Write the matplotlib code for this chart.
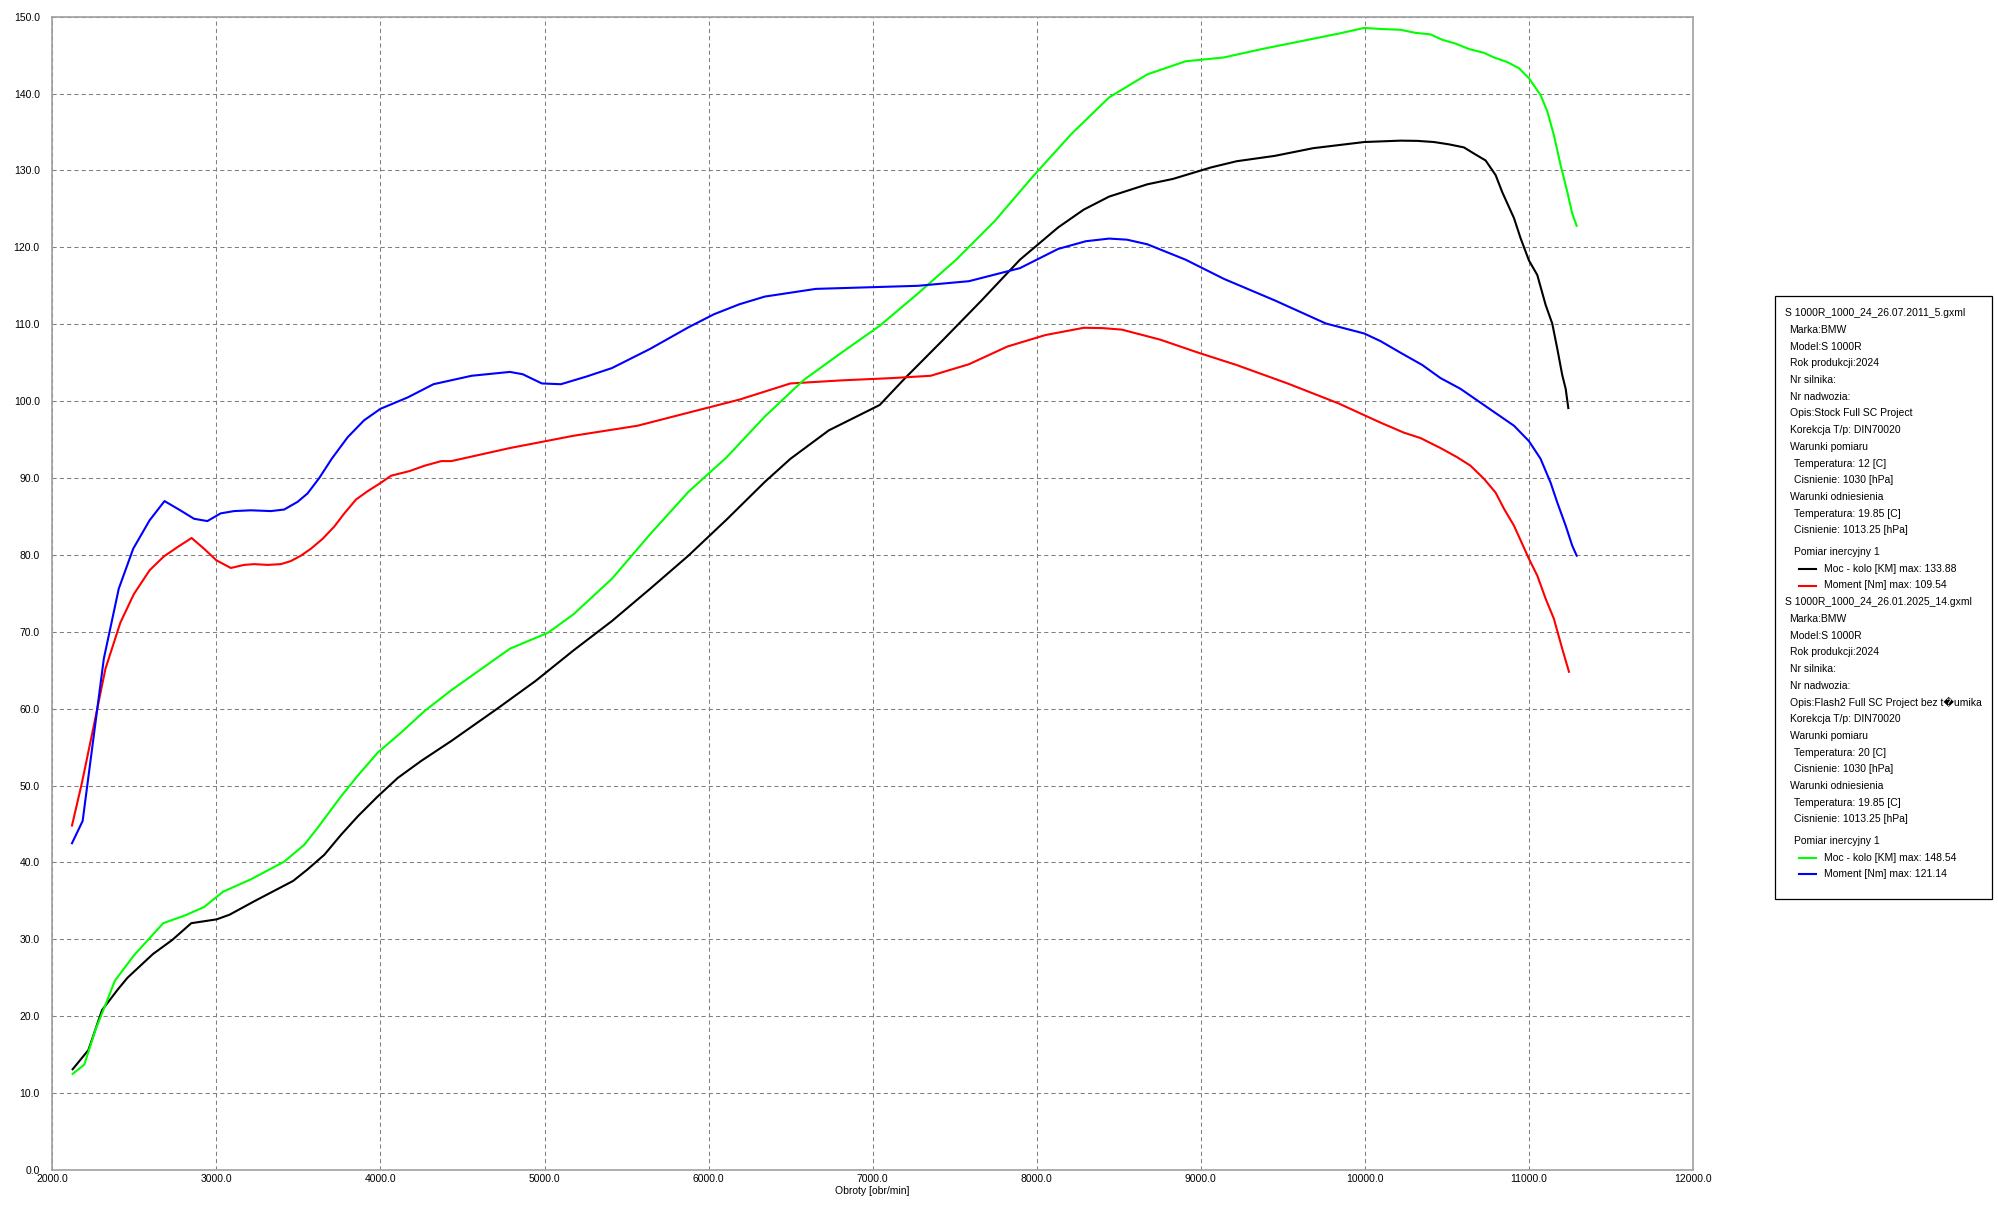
import matplotlib
matplotlib.use('Agg')
from matplotlib import pyplot as plt
from matplotlib.lines import Line2D
from matplotlib.patches import Rectangle
from matplotlib.ticker import FormatStrFormatter

plt.rcParams['font.family'] = ['Liberation Sans', 'DejaVu Sans']
plt.rcParams['font.size'] = 7.5

# pomiar 1 (stock) - moc [KM]
rpm_moc_1 = [2124, 2220, 2303, 2400, 2458, 2614, 2730, 2847, 3002, 3080, 3235, 3468, 3556, 3658, 3760,
             3862, 3984, 4106, 4248, 4432, 4712, 4945, 5178, 5411, 5644, 5877, 6110, 6343, 6499, 6733,
             7043, 7198, 7431, 7664, 7898, 8131, 8286, 8441, 8674, 8830, 9063, 9218, 9451, 9685, 9996,
             10217, 10319, 10421, 10512, 10604, 10665, 10736, 10797, 10837, 10909, 10949, 11000, 11051,
             11102, 11142, 11173, 11203, 11224, 11240]
moc_1 = [13.1, 15.6, 20.8, 23.5, 25.0, 28.1, 29.9, 32.1, 32.6, 33.2, 35.0, 37.6, 39.1, 41.0, 43.6,
         46.0, 48.6, 51.0, 53.2, 55.8, 60.0, 63.6, 67.6, 71.4, 75.6, 79.9, 84.6, 89.5, 92.5, 96.2,
         99.5, 103.0, 108.0, 113.1, 118.4, 122.6, 124.9, 126.6, 128.2, 128.9, 130.4, 131.2, 131.9, 132.9, 133.7,
         133.88, 133.85, 133.7, 133.4, 133.0, 132.2, 131.3, 129.4, 127.2, 123.8, 121.2, 118.3, 116.4,
         112.5, 110.1, 106.8, 103.4, 101.6, 99.1]

# pomiar 1 (stock) - moment [Nm]
rpm_mom_1 = [2120, 2181, 2253, 2324, 2415, 2497, 2593, 2680, 2762, 2849, 2925, 3000, 3088, 3169, 3230,
             3312, 3393, 3454, 3515, 3576, 3648, 3719, 3780, 3851, 3923, 4004, 4065, 4177, 4269, 4371,
             4432, 4789, 5178, 5567, 5877, 6188, 6499, 6810, 7121, 7354, 7587, 7821, 8054, 8287, 8400,
             8519, 8752, 8985, 9218, 9529, 9840, 10096, 10238, 10339, 10461, 10563, 10644, 10726, 10797,
             10848, 10909, 11000, 11051, 11102, 11152, 11203, 11244]
mom_1 = [44.8, 50.4, 57.8, 65.2, 71.2, 74.9, 78.0, 79.8, 81.0, 82.2, 80.8, 79.3, 78.3, 78.7, 78.8,
         78.7, 78.8, 79.2, 79.9, 80.8, 82.1, 83.7, 85.4, 87.2, 88.3, 89.4, 90.3, 90.9, 91.6, 92.2,
         92.2, 93.9, 95.5, 96.8, 98.5, 100.2, 102.3, 102.7, 103.0, 103.3, 104.8, 107.1, 108.6, 109.54, 109.5,
         109.3, 108.0, 106.3, 104.7, 102.3, 99.7, 97.2, 95.9, 95.2, 93.9, 92.7, 91.6, 89.9, 88.1,
         86.0, 83.8, 79.5, 77.3, 74.3, 71.7, 67.8, 64.8]

# pomiar 2 (flash) - moc [KM]
rpm_moc_2 = [2124, 2195, 2264, 2330, 2381, 2497, 2676, 2808, 2925, 3041, 3210, 3413, 3536, 3617, 3760,
             3862, 3984, 4126, 4269, 4432, 4789, 5023, 5178, 5411, 5644, 5877, 6110, 6343, 6577, 6810,
             7043, 7276, 7509, 7743, 7976, 8209, 8441, 8674, 8907, 9141, 9374, 9607, 9840, 9996, 10100,
             10217, 10309, 10400, 10472, 10553, 10634, 10726, 10787, 10868, 10939, 11000, 11071, 11112,
             11152, 11193, 11234, 11264, 11291]
moc_2 = [12.5, 13.7, 18.3, 21.8, 24.6, 27.9, 32.1, 33.1, 34.2, 36.2, 37.8, 40.1, 42.3, 44.5, 48.6,
         51.3, 54.3, 56.9, 59.7, 62.4, 67.8, 69.9, 72.3, 76.9, 82.7, 88.2, 92.7, 98.0, 102.7, 106.3,
         109.8, 114.0, 118.4, 123.4, 129.2, 134.7, 139.5, 142.5, 144.2, 144.7, 145.8, 146.8, 147.8, 148.54, 148.4,
         148.3, 147.9, 147.7, 147.0, 146.5, 145.8, 145.3, 144.7, 144.1, 143.3, 142.0, 139.8, 137.7,
         134.6, 130.7, 127.2, 124.4, 122.8]

# pomiar 2 (flash) - moment [Nm]
rpm_mom_2 = [2120, 2185, 2314, 2405, 2493, 2593, 2684, 2772, 2864, 2945, 3026, 3108, 3210, 3332, 3413,
             3495, 3556, 3627, 3703, 3800, 3900, 4000, 4168, 4323, 4556, 4789, 4867, 4984, 5100, 5256,
             5411, 5644, 5877, 6033, 6188, 6343, 6654, 6965, 7276, 7587, 7898, 8131, 8300, 8441, 8550,
             8674, 8907, 9141, 9451, 9762, 9996, 10096, 10217, 10350, 10461, 10583, 10705, 10807, 10909,
             11000, 11071, 11132, 11173, 11224, 11264, 11291]
mom_2 = [42.5, 45.4, 66.5, 75.6, 80.8, 84.5, 87.0, 85.9, 84.7, 84.4, 85.4, 85.7, 85.8, 85.7, 85.9,
         86.9, 88.0, 90.0, 92.5, 95.3, 97.5, 99.0, 100.5, 102.2, 103.3, 103.8, 103.5, 102.3, 102.2, 103.2,
         104.3, 106.8, 109.6, 111.3, 112.6, 113.6, 114.6, 114.8, 115.0, 115.6, 117.3, 119.8, 120.8, 121.14, 121.0,
         120.4, 118.4, 115.9, 113.1, 110.1, 108.8, 107.8, 106.3, 104.7, 103.0, 101.6, 99.8, 98.3, 96.8,
         94.8, 92.5, 89.4, 86.8, 83.8, 81.2, 79.9]

x_ticks = [2000, 3000, 4000, 5000, 6000, 7000, 8000, 9000, 10000, 11000, 12000]
y_ticks = [0, 10, 20, 30, 40, 50, 60, 70, 80, 90, 100, 110, 120, 130, 140, 150]

legend_1 = ['S 1000R_1000_24_26.07.2011_5.gxml', ' Marka:BMW', ' Model:S 1000R', ' Rok produkcji:2024',
            ' Nr silnika:', ' Nr nadwozia:', ' Opis:Stock Full SC Project', ' Korekcja T/p: DIN70020',
            ' Warunki pomiaru', '  Temperatura: 12 [C]', '  Cisnienie: 1030 [hPa]', ' Warunki odniesienia',
            '  Temperatura: 19.85 [C]', '  Cisnienie: 1013.25 [hPa]']
legend_2 = ['S 1000R_1000_24_26.01.2025_14.gxml', ' Marka:BMW', ' Model:S 1000R', ' Rok produkcji:2024',
            ' Nr silnika:', ' Nr nadwozia:', ' Opis:Flash2 Full SC Project bez t\ufffdumika',
            ' Korekcja T/p: DIN70020', ' Warunki pomiaru', '  Temperatura: 20 [C]', '  Cisnienie: 1030 [hPa]',
            ' Warunki odniesienia', '  Temperatura: 19.85 [C]', '  Cisnienie: 1013.25 [hPa]']
series_1 = [('Moc - kolo [KM] max: 133.88', '#000000'), ('Moment [Nm] max: 109.54', '#ff0000')]
series_2 = [('Moc - kolo [KM] max: 148.54', '#00ff00'), ('Moment [Nm] max: 121.14', '#0000ff')]

W, H = 1999, 1210
fig = plt.figure(figsize=(W / 100, H / 100), dpi=100)
ax = fig.add_axes([52.3 / W, 1 - 1170 / H, (1693 - 52.3) / W, (1170 - 16.7) / H])

ax.plot(rpm_moc_1, moc_1, color='#000000', lw=1.5)
ax.plot(rpm_mom_1, mom_1, color='#ff0000', lw=1.5)
ax.plot(rpm_moc_2, moc_2, color='#00ff00', lw=1.5)
ax.plot(rpm_mom_2, mom_2, color='#0000ff', lw=1.5)

ax.set_xlim(2000, 12000)
ax.set_ylim(0, 150)
ax.set_xticks(x_ticks)
ax.set_yticks(y_ticks)
ax.xaxis.set_major_formatter(FormatStrFormatter('%.1f'))
ax.yaxis.set_major_formatter(FormatStrFormatter('%.1f'))
ax.tick_params(axis='both', length=0, labelsize=7.5)
ax.tick_params(axis='y', pad=9)
ax.tick_params(axis='x', pad=3)
ax.grid(True, color='#808080', lw=0.75, linestyle=(0, (4, 3)))
ax.set_axisbelow(True)
for s in ax.spines.values():
    s.set_color('#a0a0a0')
    s.set_linewidth(1.2)
ax.set_xlabel('Obroty [obr/min]', fontsize=7.5, labelpad=1)


def px(x, y):
    return x / W, 1 - y / H


# legenda po prawej
fig.patches.append(Rectangle(px(1775.5, 898.5), (1992.5 - 1775.5) / W, (898.5 - 296) / H,
                             transform=fig.transFigure, fill=False, edgecolor='#000000', lw=0.9))


def draw_block(lines, series, y0):
    y = y0
    for t in lines:
        indent = t[:len(t) - len(t.lstrip(' '))]
        x = 1785 + 4.5 * len(indent)
        fig.text(*px(x, y), t.strip(), ha='left', va='center', fontsize=7.5)
        y += 16.7
    y += 5
    fig.text(*px(1794, y), 'Pomiar inercyjny 1', ha='left', va='center', fontsize=7.5)
    y += 16.7
    for name, col in series:
        fig.add_artist(Line2D([1799.5 / W, 1816 / W], [1 - y / H, 1 - y / H], color=col, lw=1.5,
                              transform=fig.transFigure))
        fig.text(*px(1824, y), name, ha='left', va='center', fontsize=7.5)
        y += 16.7
    return y


yy = draw_block(legend_1, series_1, 313.3)
draw_block(legend_2, series_2, yy)

plt.savefig('out.png', dpi=100)
plt.close('all')
